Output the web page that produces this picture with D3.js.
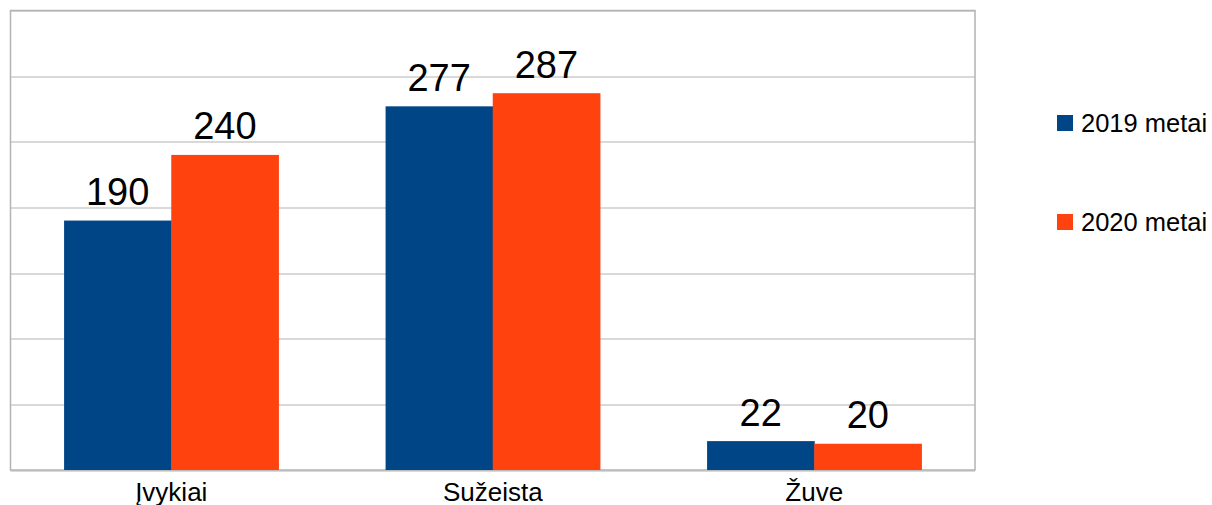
<!DOCTYPE html>
<html>
<head>
<meta charset="utf-8">
<script src="https://cdn.jsdelivr.net/npm/d3@7"></script>
<style>
  body { margin: 0; background: #fff; }
  svg { display: block; font-family: "Liberation Sans", Arial, sans-serif; }
</style>
</head>
<body>
<div id="chart"></div>
<script>
// chart data
const categories = ["Įvykiai", "Sužeista", "Žuve"];
const seriesNames = ["2019 metai", "2020 metai"];
const values2019 = [190, 277, 22];
const values2020 = [240, 287, 20];
const yTicks = [0, 50, 100, 150, 200, 250, 300, 350];
const colors = ["#004586", "#ff420e"];

const width = 1212, height = 505;
const margin = { top: 10.5, right: 237, bottom: 35, left: 10.5 };
const plotW = width - margin.left - margin.right;
const plotH = height - margin.top - margin.bottom;

const svg = d3.select("#chart").append("svg")
  .attr("width", width)
  .attr("height", height);

const main = svg.append("g")
  .attr("transform", "translate(" + margin.left + "," + margin.top + ")");

const x0 = d3.scaleBand()
  .domain(categories)
  .range([0, plotW])
  .paddingInner(1 / 3)
  .paddingOuter(1 / 6);

const x1 = d3.scaleBand()
  .domain(seriesNames)
  .range([0, x0.bandwidth()]);

const y = d3.scaleLinear()
  .domain([0, 350])
  .range([plotH, 0]);

// grid lines
main.append("g")
  .selectAll("line")
  .data(yTicks)
  .enter()
  .append("line")
  .attr("x1", 0)
  .attr("x2", plotW)
  .attr("y1", d => Math.round(y(d)) + 0.5)
  .attr("y2", d => Math.round(y(d)) + 0.5)
  .style("stroke", "#b3b3b3")
  .style("stroke-width", 1);

// frame
main.append("rect")
  .attr("x", 0)
  .attr("y", 0)
  .attr("width", plotW)
  .attr("height", plotH)
  .style("fill", "none")
  .style("stroke", "#b3b3b3")
  .style("stroke-width", 1.5);

const rows = categories.map((c, i) => ({
  cat: c,
  vals: [
    { name: seriesNames[0], v: values2019[i], color: colors[0] },
    { name: seriesNames[1], v: values2020[i], color: colors[1] }
  ]
}));

const groups = main.selectAll(".grp")
  .data(rows)
  .enter()
  .append("g")
  .attr("class", "grp")
  .attr("transform", d => "translate(" + x0(d.cat) + ",0)");

groups.selectAll("rect")
  .data(d => d.vals)
  .enter()
  .append("rect")
  .attr("x", d => x1(d.name))
  .attr("y", d => y(d.v))
  .attr("width", x1.bandwidth() + 0.5)
  .attr("height", d => plotH - y(d.v))
  .style("fill", d => d.color);

groups.selectAll("text")
  .data(d => d.vals)
  .enter()
  .append("text")
  .attr("x", d => x1(d.name) + x1.bandwidth() / 2)
  .attr("y", d => y(d.v) - 15.5)
  .attr("text-anchor", "middle")
  .style("font-size", "38px")
  .style("fill", "#000")
  .text(d => d.v);

// x axis labels
const xAxis = d3.axisBottom(x0).tickSize(0).tickPadding(13);
main.append("g")
  .attr("transform", "translate(0," + plotH + ")")
  .call(xAxis)
  .call(g => g.select(".domain").remove())
  .selectAll("text")
  .style("font-size", "26px")
  .style("font-family", "\"Liberation Sans\", Arial, sans-serif")
  .style("fill", "#000");

// legend
const legend = svg.append("g")
  .selectAll("g")
  .data(seriesNames)
  .enter()
  .append("g")
  .attr("transform", (d, i) => "translate(1057," + (115 + i * 99) + ")");

legend.append("rect")
  .attr("width", 16)
  .attr("height", 16)
  .style("fill", (d, i) => colors[i]);

legend.append("text")
  .attr("x", 24)
  .attr("y", 17)
  .style("font-size", "25.5px")
  .style("fill", "#000")
  .text(d => d);
</script>
</body>
</html>
